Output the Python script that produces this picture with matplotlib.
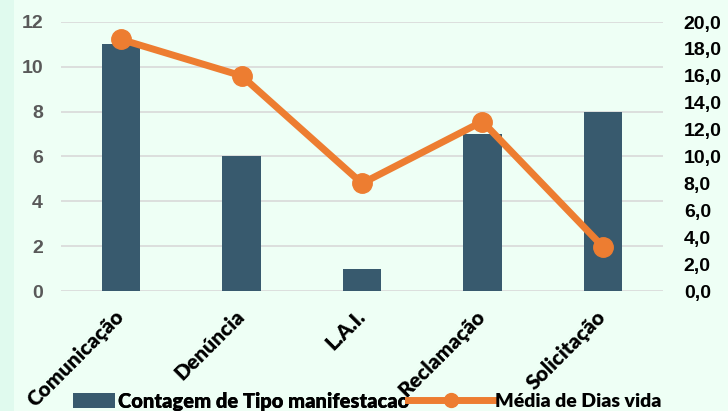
import matplotlib
matplotlib.use("Agg")
import matplotlib.pyplot as plt
from matplotlib.lines import Line2D
from matplotlib.patches import Patch, Rectangle
import numpy as np

categories = ["Comunicação", "Denúncia", "L.A.I.", "Reclamação", "Solicitação"]
contagem = [11, 6, 1, 7, 8]
media_dias = [18.7, 16.0, 8.0, 12.6, 3.3]
left_ticks = [0, 2, 4, 6, 8, 10, 12]
right_ticks = [0, 2, 4, 6, 8, 10, 12, 14, 16, 18, 20]

bg = "#EEFFF5"
bar_color = "#385A6E"
line_color = "#ED7D31"

fig = plt.figure(figsize=(7.28, 4.11), dpi=100, facecolor=bg)
fig.patches.append(Rectangle((0, 0), 14/728, 1, transform=fig.transFigure,
                             facecolor="#E0FAEE", edgecolor="none", zorder=-1))
ax = fig.add_axes([61/728, 1-291/411, 602/728, 269/411])
ax.set_facecolor(bg)
x = np.arange(len(categories))
ax.bar(x, contagem, width=0.32, color=bar_color, zorder=2)
ax.set_ylim(0, 12)
ax.set_xlim(-0.5, len(categories)-0.5)
ax.set_yticks(left_ticks)
ax.set_yticklabels([str(v) for v in left_ticks], fontfamily="Liberation Sans",
                   fontweight="bold", fontsize=14, color="#595959")
ax.grid(axis="y", color="#D9D9D9", linewidth=1.2, zorder=0)
for s in ax.spines.values():
    s.set_visible(False)
ax.tick_params(axis="both", length=0)
ax.tick_params(axis="y", pad=13)
ax.set_xticks(x)
ax.set_xticklabels(categories, rotation=45, ha="right", va="center",
                   rotation_mode="anchor",
                   fontfamily="Lato", fontweight="heavy", fontsize=15)
ax.tick_params(axis="x", pad=16)

ax2 = ax.twinx()
ax2.plot(x, media_dias, color=line_color, linewidth=5, marker="o",
         markersize=14, zorder=3)
ax2.set_ylim(0, 20)
ax2.set_yticks(right_ticks)
ax2.set_yticklabels([f"{v:.1f}".replace(".", ",") for v in right_ticks],
                    fontfamily="Liberation Sans", fontweight="bold", fontsize=14,
                    color="black")
for s in ax2.spines.values():
    s.set_visible(False)
ax2.tick_params(axis="y", length=0, pad=15)

prop = {"family": "Lato", "weight": "heavy", "size": 14.5}
leg_y = 1 - 401/411
leg1 = fig.legend([Patch(facecolor=bar_color, edgecolor="none")],
                  ["Contagem de Tipo manifestacao"],
                  loc="center left", bbox_to_anchor=(73/728, leg_y), frameon=False,
                  prop=prop, handlelength=2.1, handletextpad=0.15,
                  borderpad=0, borderaxespad=0)
fig.add_artist(leg1)
fig.legend([Line2D([0], [0], color=line_color, linewidth=5, marker="o", markersize=10)],
           ["Média de Dias vida"],
           loc="center left", bbox_to_anchor=(408/728, leg_y), frameon=False,
           prop={"family": "Lato", "weight": "heavy", "size": 14},
           handlelength=4.4, handletextpad=0.05,
           borderpad=0, borderaxespad=0)

fig.savefig("out.png", dpi=100, facecolor=bg)
